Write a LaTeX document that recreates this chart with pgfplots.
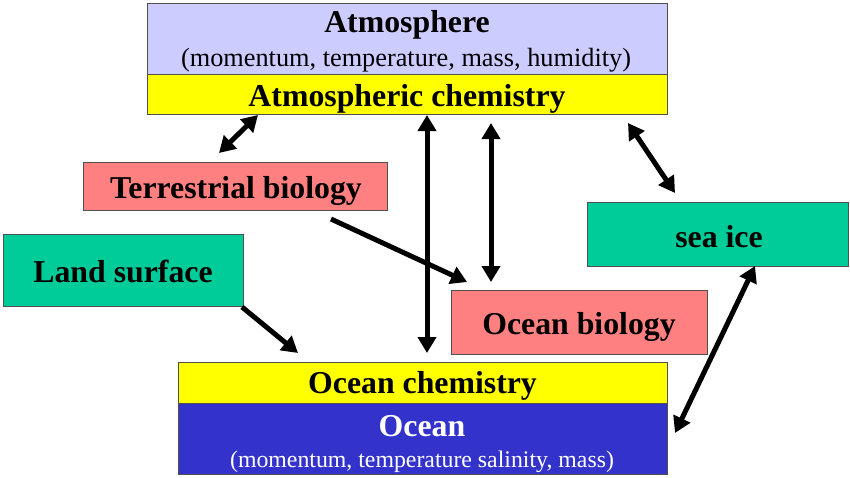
\documentclass[border=0pt]{standalone}
\usepackage{pgfplots}
\pgfplotsset{compat=1.18}
\usepackage{fontspec}
\setmainfont{Liberation Serif}
\usetikzlibrary{arrows.meta}
\definecolor{lav}{HTML}{CCCCFF}
\definecolor{yel}{HTML}{FFFF00}
\definecolor{sal}{HTML}{FF8080}
\definecolor{grn}{HTML}{00CC99}
\definecolor{blu}{HTML}{3333CC}
\definecolor{brd}{HTML}{505050}
\newcommand{\bigtitle}{\fontsize{31.8bp}{36bp}\selectfont\bfseries}
\newcommand{\subtitle}{\fontsize{26.3bp}{30bp}\selectfont}
\newcommand{\subtitlesm}{\fontsize{23.8bp}{28bp}\selectfont}
\tikzset{lbl/.style={inner sep=0pt, outer sep=0pt, anchor=base}}
\begin{document}
\begin{tikzpicture}
\begin{axis}[
  width=850bp, height=477bp, scale only axis,
  xmin=0, xmax=850, ymin=0, ymax=477, y dir=reverse,
  hide axis, clip=false,
  box/.style={draw=brd, line width=0.9bp},
  arr/.style={line width=5bp, black},
]
\addplot[draw=none] coordinates {(0,0) (850,477)};
% boxes
\addplot[box, fill=lav] coordinates {(147,3) (667,3) (667,74) (147,74)} -- cycle;
\addplot[box, fill=yel] coordinates {(147,74) (667,74) (667,114) (147,114)} -- cycle;
\addplot[box, fill=sal] coordinates {(83,162) (387,162) (387,210) (83,210)} -- cycle;
\addplot[box, fill=grn] coordinates {(3,234) (243,234) (243,306) (3,306)} -- cycle;
\addplot[box, fill=grn] coordinates {(587,202) (848,202) (848,266) (587,266)} -- cycle;
\addplot[box, fill=sal] coordinates {(451,290) (707,290) (707,354) (451,354)} -- cycle;
\addplot[box, fill=yel] coordinates {(178,362) (667,362) (667,403) (178,403)} -- cycle;
\addplot[box, fill=blu] coordinates {(178,403) (667,403) (667,474) (178,474)} -- cycle;
% arrows
\addplot[arr, {Triangle[width=18bp,length=16bp]}-{Triangle[width=18bp,length=16bp]}] coordinates {(258,115) (219,153)};
\addplot[arr, {Triangle[width=18bp,length=16bp]}-{Triangle[width=18bp,length=16bp]}] coordinates {(427,115) (427,353)};
\addplot[arr, {Triangle[width=18bp,length=16bp]}-{Triangle[width=18bp,length=16bp]}] coordinates {(491,123) (491,282)};
\addplot[arr, {Triangle[width=18bp,length=16bp]}-{Triangle[width=18bp,length=16bp]}] coordinates {(628,123) (675,193)};
\addplot[arr, -{Triangle[width=18bp,length=16bp]}] coordinates {(331,219) (467,282)};
\addplot[arr, -{Triangle[width=18bp,length=16bp]}] coordinates {(242,307) (298,353)};
\addplot[arr, {Triangle[width=18bp,length=16bp]}-{Triangle[width=18bp,length=16bp]}] coordinates {(755,266) (675,433)};
% texts
\node[lbl] at (axis cs:407,33) {\bigtitle Atmosphere};
\node[lbl] at (axis cs:406,67) {\subtitle (momentum, temperature, mass, humidity)};
\node[lbl] at (axis cs:407,106) {\bigtitle Atmospheric chemistry};
\node[lbl] at (axis cs:236,198) {\bigtitle Terrestrial biology};
\node[lbl] at (axis cs:123,282) {\bigtitle Land surface};
\node[lbl] at (axis cs:719,247) {\bigtitle sea ice};
\node[lbl] at (axis cs:579,334) {\bigtitle Ocean biology};
\node[lbl] at (axis cs:422.5,393) {\bigtitle Ocean chemistry};
\node[lbl, text=white] at (axis cs:422,436) {\bigtitle Ocean};
\node[lbl, text=white] at (axis cs:422,467) {\subtitlesm (momentum, temperature salinity, mass)};
\end{axis}
\end{tikzpicture}
\end{document}
